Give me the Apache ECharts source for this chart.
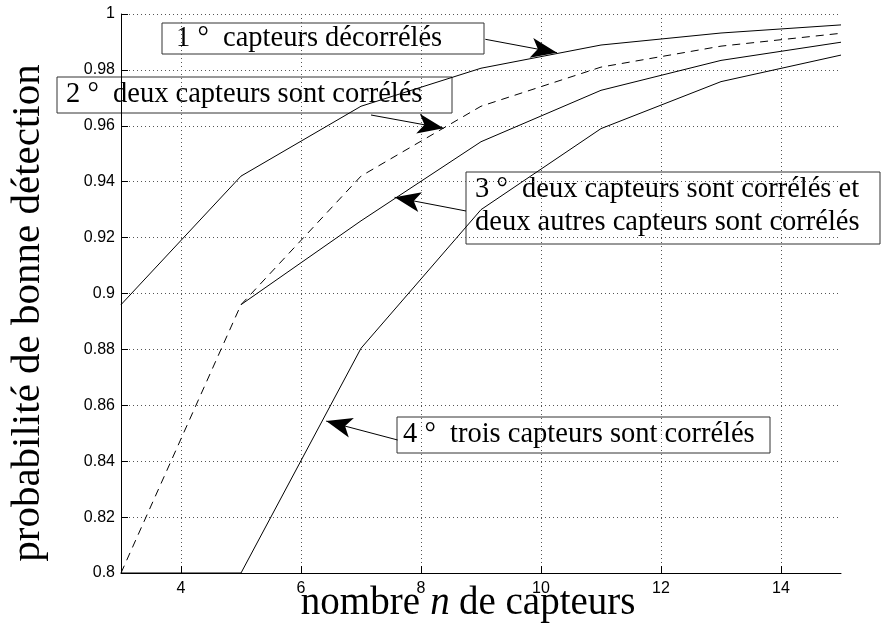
<!DOCTYPE html>
<html>
<head>
<meta charset="utf-8">
<script src="https://cdn.jsdelivr.net/npm/echarts@6/dist/echarts.min.js"></script>
<style>
  html, body { margin: 0; padding: 0; background: #fff; }
  #main { width: 882px; height: 629px; }
</style>
</head>
<body>
<div id="main"></div>
<script>
  // nombre de capteurs
  var nCapteurs = [3, 5, 7, 9, 11, 13, 15];
  // 1° capteurs décorrélés
  var decorreles = [0.896, 0.942, 0.967, 0.9806, 0.9889, 0.9932, 0.9961];
  // 2° deux capteurs sont corrélés (pointillés)
  var deuxCorreles = [0.800, 0.896, 0.942, 0.967, 0.981, 0.9885, 0.9931];
  // 3° deux + deux capteurs corrélés
  var deuxEtDeux = [null, 0.896, 0.926, 0.9543, 0.9727, 0.9834, 0.9899];
  // 4° trois capteurs sont corrélés
  var troisCorreles = [0.800, 0.800, 0.8804, 0.930, 0.959, 0.9758, 0.9853];

  var xTicks = [4, 6, 8, 10, 12, 14];

  var serif = '"Liberation Serif", "DejaVu Serif", serif';
  var sans = '"Liberation Sans", Arial, sans-serif';

  function pairs(ys) {
    var out = [];
    for (var i = 0; i < nCapteurs.length; i++) {
      out.push([nCapteurs[i], ys[i]]);
    }
    return out;
  }

  // fleche : debut (boite) -> pointe (sur la courbe), en coordonnees du graphe
  function fleche(from, to) {
    return [
      { coord: from, symbol: 'none' },
      { coord: to, symbol: 'arrow', symbolSize: [15, 26] }
    ];
  }

  var chart = echarts.init(document.getElementById('main'));
  chart.setOption({
    animation: false,
    backgroundColor: '#fff',
    grid: { left: 121, right: 41, top: 14, bottom: 56, containLabel: false, outerBoundsMode: 'none' },
    xAxis: {
      type: 'value',
      min: 3,
      max: 15,
      axisLine: { lineStyle: { color: '#000', width: 1 } },
      axisTick: { inside: true, length: 7, customValues: xTicks, lineStyle: { color: '#000' } },
      axisLabel: { customValues: xTicks, margin: 8, color: '#000', fontSize: 16, fontFamily: sans },
      splitLine: { show: true, lineStyle: { color: '#555', type: [1, 3], width: 1 } }
    },
    yAxis: {
      type: 'value',
      min: 0.8,
      max: 1,
      interval: 0.02,
      axisLine: { show: true, lineStyle: { color: '#000', width: 1 } },
      axisTick: { show: true, inside: true, length: 7, lineStyle: { color: '#000' } },
      axisLabel: { margin: 6, color: '#000', fontSize: 16, fontFamily: sans },
      splitLine: { show: true, lineStyle: { color: '#555', type: [1, 3], width: 1 } }
    },
    series: [
      {
        name: '1° capteurs décorrélés',
        type: 'line',
        data: pairs(decorreles),
        showSymbol: false,
        lineStyle: { color: '#000', width: 1 },
        markLine: {
          silent: true,
          label: { show: false },
          lineStyle: { color: '#000', width: 1, type: 'solid' },
          data: [
            fleche([9.072, 0.99095], [10.267, 0.98615]),
            fleche([7.167, 0.96386], [8.377, 0.95911]),
            fleche([8.75, 0.92952], [7.56, 0.93442]),
            fleche([7.61, 0.84759], [6.42, 0.85434])
          ]
        }
      },
      {
        name: '2° deux capteurs sont corrélés',
        type: 'line',
        data: pairs(deuxCorreles),
        showSymbol: false,
        lineStyle: { color: '#000', width: 1, type: [8, 6] }
      },
      {
        name: '3° deux capteurs sont corrélés et deux autres capteurs sont corrélés',
        type: 'line',
        data: pairs(deuxEtDeux),
        showSymbol: false,
        connectNulls: false,
        lineStyle: { color: '#000', width: 1 }
      },
      {
        name: '4° trois capteurs sont corrélés',
        type: 'line',
        data: pairs(troisCorreles),
        showSymbol: false,
        lineStyle: { color: '#000', width: 1 }
      }
    ],
    graphic: [
      // titre de l'axe vertical
      {
        type: 'text', x: 28, y: 313, rotation: Math.PI / 2,
        style: { text: 'probabilité de bonne détection', font: '41px ' + serif, fill: '#000', align: 'center', verticalAlign: 'middle' }
      },
      // titre de l'axe horizontal (n en italique)
      { type: 'text', x: 420, y: 604, style: { text: 'nombre', font: '39px ' + serif, fill: '#000', align: 'right', verticalAlign: 'middle' } },
      { type: 'text', x: 440, y: 604, style: { text: 'n', font: 'italic 39px ' + serif, fill: '#000', align: 'center', verticalAlign: 'middle' } },
      { type: 'text', x: 459, y: 604, style: { text: 'de capteurs', font: '39px ' + serif, fill: '#000', align: 'left', verticalAlign: 'middle' } },
      // boites des legendes
      { type: 'rect', shape: { x: 162, y: 23, width: 322, height: 31 }, style: { fill: 'none', stroke: '#333', lineWidth: 1 } },
      { type: 'rect', shape: { x: 57, y: 77, width: 395, height: 36 }, style: { fill: 'none', stroke: '#333', lineWidth: 1 } },
      { type: 'rect', shape: { x: 466, y: 172, width: 414, height: 72 }, style: { fill: 'none', stroke: '#333', lineWidth: 1 } },
      { type: 'rect', shape: { x: 397, y: 417, width: 373, height: 36 }, style: { fill: 'none', stroke: '#333', lineWidth: 1 } },
      { type: 'text', x: 176, y: 39, style: { text: '1 °  capteurs décorrélés', font: '28.5px ' + serif, fill: '#000', align: 'left', verticalAlign: 'middle' } },
      { type: 'text', x: 66, y: 95, style: { text: '2 °  deux capteurs sont corrélés', font: '28.5px ' + serif, fill: '#000', align: 'left', verticalAlign: 'middle' } },
      { type: 'text', x: 475, y: 190, style: { text: '3 °  deux capteurs sont corrélés et', font: '28.5px ' + serif, fill: '#000', align: 'left', verticalAlign: 'middle' } },
      { type: 'text', x: 475, y: 223, style: { text: 'deux autres capteurs sont corrélés', font: '28.5px ' + serif, fill: '#000', align: 'left', verticalAlign: 'middle' } },
      { type: 'text', x: 403, y: 435, style: { text: '4 °  trois capteurs sont corrélés', font: '28.5px ' + serif, fill: '#000', align: 'left', verticalAlign: 'middle' } }
    ]
  });
</script>
</body>
</html>
